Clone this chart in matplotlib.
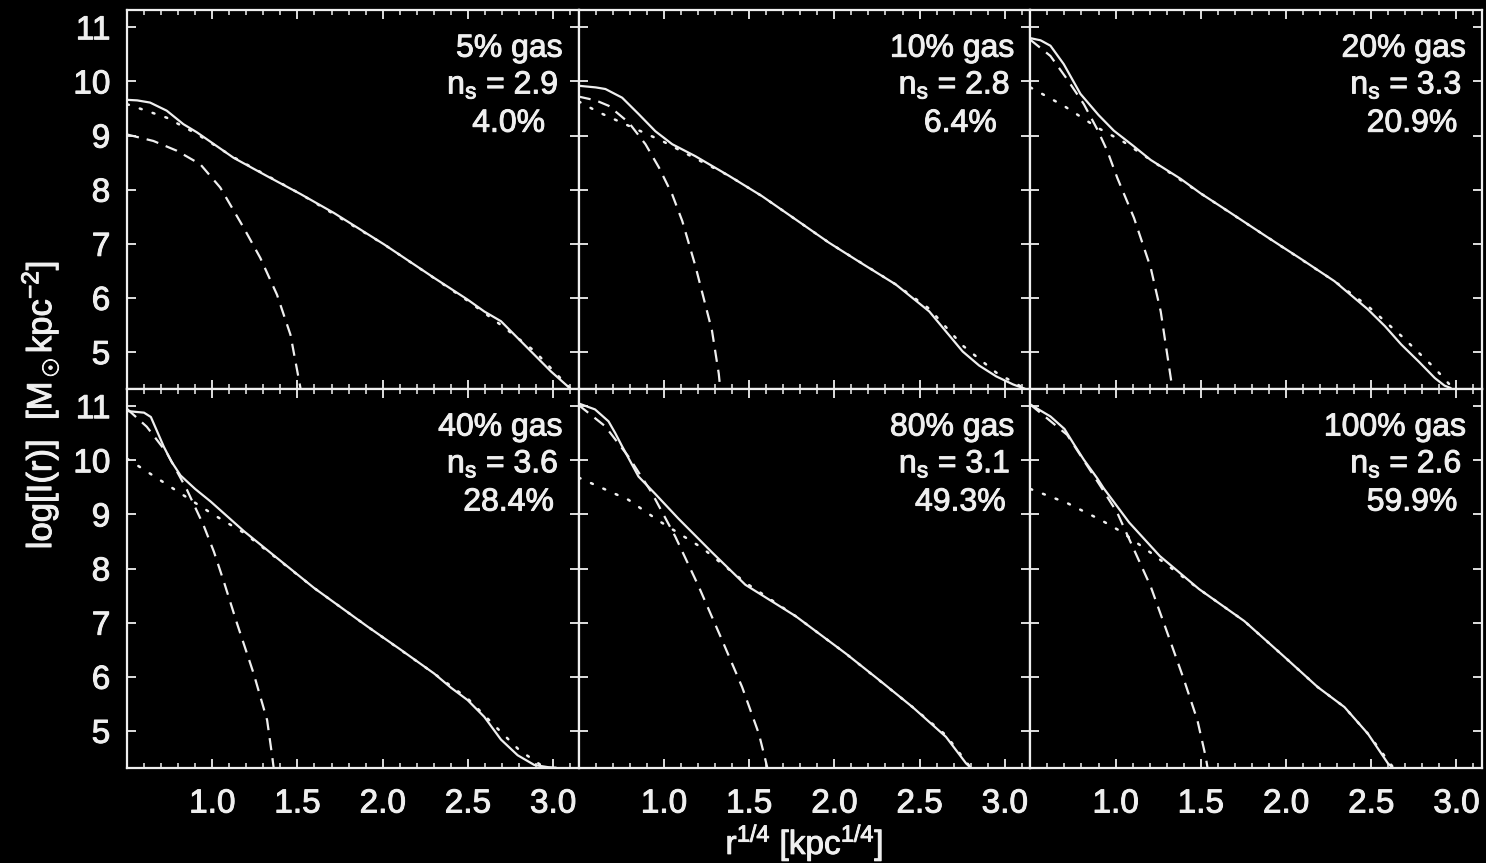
import matplotlib
matplotlib.use("Agg")
import matplotlib.pyplot as plt
import matplotlib.patheffects as pe
from matplotlib.ticker import FixedLocator, MultipleLocator, FormatStrFormatter

# ---------------------------------------------------------------------------
# Surface-density profiles log I(r) versus r^(1/4) for six gas fractions.
# total = simulated profile, outer = Sersic fit to the outer light,
# inner = extra-light (dissipational) component.
# ---------------------------------------------------------------------------
gas_labels = ["5% gas", "10% gas", "20% gas", "40% gas", "80% gas", "100% gas"]
sersic_n = [2.9, 2.8, 3.3, 3.6, 3.1, 2.6]
extra_light_pct = [4.0, 6.4, 20.9, 28.4, 49.3, 59.9]

# 5% gas
r_total_05 = [0.50, 0.56, 0.635, 0.733, 0.831, 0.91, 1.125, 1.322, 1.518, 1.714,
              2.008, 2.302, 2.498, 2.596, 2.694, 2.792, 2.89, 2.988, 3.106]
lg_total_05 = [9.66, 9.65, 9.61, 9.46, 9.21, 9.06, 8.59, 8.25, 7.92, 7.57,
               6.99, 6.37, 5.97, 5.75, 5.57, 5.26, 4.95, 4.64, 4.31]
r_outer_05 = [0.50, 0.733, 0.91, 1.125, 1.518, 2.008, 2.498, 2.694, 2.89, 3.106]
lg_outer_05 = [9.58, 9.33, 9.03, 8.60, 7.92, 6.99, 5.95, 5.50, 5.02, 4.31]
r_inner_05 = [0.50, 0.655, 0.792, 0.93, 1.047, 1.184, 1.282, 1.38, 1.459, 1.518]
lg_inner_05 = [9.02, 8.90, 8.72, 8.47, 8.04, 7.30, 6.74, 6.06, 5.32, 4.33]

# 10% gas
r_total_10 = [0.50, 0.60, 0.657, 0.755, 0.851, 0.95, 1.049, 1.184, 1.38, 1.576, 1.773,
              1.969, 2.165, 2.36, 2.557, 2.655, 2.753, 2.85, 2.95, 3.05, 3.12]
lg_total_10 = [9.92, 9.89, 9.86, 9.70, 9.40, 9.08, 8.84, 8.62, 8.26, 7.88, 7.45,
               7.02, 6.63, 6.25, 5.75, 5.38, 5.01, 4.75, 4.55, 4.40, 4.32]
r_outer_10 = [0.50, 0.618, 0.794, 0.99, 1.147, 1.38, 1.576, 1.969, 2.36, 2.557, 2.753, 2.95, 3.12]
lg_outer_10 = [9.63, 9.43, 9.18, 8.90, 8.64, 8.26, 7.88, 7.02, 6.25, 5.80, 5.12, 4.62, 4.32]
r_inner_10 = [0.50, 0.60, 0.676, 0.794, 0.892, 0.971, 1.049, 1.108, 1.184, 1.282, 1.322, 1.33]
lg_inner_10 = [9.72, 9.65, 9.55, 9.24, 8.84, 8.41, 7.91, 7.42, 6.60, 5.40, 4.60, 4.35]

# 20% gas
r_total_20 = [0.50, 0.56, 0.618, 0.696, 0.794, 0.90, 0.99, 1.10, 1.206, 1.382, 1.5,
              1.637, 1.892, 2.088, 2.284, 2.48, 2.58, 2.676, 2.78, 2.873, 2.93, 2.97]
lg_total_20 = [10.80, 10.76, 10.66, 10.32, 9.77, 9.38, 9.09, 8.82, 8.55, 8.20, 7.93,
               7.65, 7.12, 6.72, 6.31, 5.79, 5.48, 5.14, 4.82, 4.52, 4.38, 4.33]
r_outer_20 = [0.50, 0.696, 0.892, 1.049, 1.206, 1.5, 1.892, 2.284, 2.48, 2.676, 2.873, 2.98]
lg_outer_20 = [9.89, 9.55, 9.15, 8.88, 8.55, 7.93, 7.12, 6.31, 5.85, 5.30, 4.70, 4.33]
r_inner_20 = [0.50, 0.618, 0.716, 0.814, 0.892, 0.951, 1.01, 1.108, 1.206, 1.265, 1.324, 1.333]
lg_inner_20 = [10.77, 10.47, 10.04, 9.58, 9.12, 8.72, 8.22, 7.48, 6.56, 5.75, 4.52, 4.33]

# 40% gas
r_total_40 = [0.50, 0.60, 0.64, 0.676, 0.716, 0.76, 0.814, 0.90, 0.99, 1.186, 1.382, 1.598,
              1.91, 2.106, 2.302, 2.40, 2.498, 2.596, 2.694, 2.792, 2.89, 2.97, 3.02]
lg_total_40 = [10.91, 10.88, 10.80, 10.54, 10.25, 9.98, 9.72, 9.47, 9.24, 8.69, 8.19, 7.64,
               6.93, 6.50, 6.06, 5.80, 5.57, 5.26, 4.84, 4.55, 4.37, 4.33, 4.32]
r_outer_40 = [0.50, 0.75, 1.0, 1.186, 1.382, 1.598, 1.91, 2.302, 2.498, 2.694, 2.80, 2.95]
lg_outer_40 = [10.03, 9.52, 9.01, 8.66, 8.18, 7.64, 6.93, 6.06, 5.60, 4.98, 4.65, 4.32]
r_inner_40 = [0.50, 0.616, 0.733, 0.851, 0.949, 1.01, 1.069, 1.145, 1.243, 1.322, 1.351, 1.36]
lg_inner_40 = [10.95, 10.62, 10.14, 9.46, 8.80, 8.31, 7.75, 6.99, 6.06, 5.20, 4.55, 4.33]

# 80% gas
r_total_80 = [0.50, 0.596, 0.675, 0.715, 0.753, 0.851, 0.949, 1.086, 1.282, 1.478, 1.773,
              2.067, 2.263, 2.459, 2.655, 2.773, 2.80]
lg_total_80 = [11.05, 10.94, 10.72, 10.50, 10.27, 9.70, 9.38, 8.92, 8.30, 7.70, 7.12,
               6.43, 5.94, 5.44, 4.89, 4.40, 4.32]
r_outer_80 = [0.50, 0.792, 0.971, 1.225, 1.478, 1.773, 2.067, 2.459, 2.655, 2.80]
lg_outer_80 = [9.68, 9.27, 8.88, 8.38, 7.74, 7.12, 6.43, 5.44, 4.92, 4.32]
r_inner_80 = [0.50, 0.655, 0.792, 0.929, 1.067, 1.204, 1.341, 1.459, 1.557, 1.596, 1.606]
lg_inner_80 = [11.02, 10.63, 10.07, 9.40, 8.59, 7.67, 6.68, 5.81, 4.95, 4.46, 4.33]

# 100% gas
r_total_100 = [0.50, 0.618, 0.70, 0.755, 0.814, 0.892, 0.931, 1.08, 1.26, 1.49, 1.755,
               1.99, 2.186, 2.343, 2.48, 2.598, 2.625]
lg_total_100 = [11.03, 10.81, 10.58, 10.30, 10.01, 9.67, 9.48, 8.85, 8.23, 7.62, 7.03,
                6.37, 5.81, 5.44, 4.95, 4.40, 4.32]
r_outer_100 = [0.50, 0.716, 0.912, 1.029, 1.225, 1.49, 1.755, 1.99, 2.186, 2.343, 2.48, 2.63]
lg_outer_100 = [9.47, 9.21, 8.90, 8.69, 8.25, 7.62, 7.03, 6.37, 5.81, 5.44, 4.95, 4.32]
r_inner_100 = [0.50, 0.716, 0.912, 1.01, 1.108, 1.206, 1.304, 1.402, 1.48, 1.529, 1.539]
lg_inner_100 = [11.03, 10.47, 9.52, 9.03, 8.35, 7.67, 6.81, 5.94, 5.20, 4.52, 4.33]

x_ticks = [1.0, 1.5, 2.0, 2.5, 3.0]
y_ticks = [5, 6, 7, 8, 9, 10, 11]

totals = [(r_total_05, lg_total_05), (r_total_10, lg_total_10), (r_total_20, lg_total_20),
          (r_total_40, lg_total_40), (r_total_80, lg_total_80), (r_total_100, lg_total_100)]
outers = [(r_outer_05, lg_outer_05), (r_outer_10, lg_outer_10), (r_outer_20, lg_outer_20),
          (r_outer_40, lg_outer_40), (r_outer_80, lg_outer_80), (r_outer_100, lg_outer_100)]
inners = [(r_inner_05, lg_inner_05), (r_inner_10, lg_inner_10), (r_inner_20, lg_inner_20),
          (r_inner_40, lg_inner_40), (r_inner_80, lg_inner_80), (r_inner_100, lg_inner_100)]

plt.rcParams.update({
    "font.family": ["Liberation Sans", "DejaVu Sans"],
    "mathtext.fontset": "custom",
    "mathtext.rm": "Liberation Sans",
    "mathtext.it": "Liberation Sans:italic",
    "mathtext.bf": "Liberation Sans:bold",
    "mathtext.sf": "Liberation Sans",
})

FG = "#efefef"
W, H = 1486, 863
# slightly heavier glyph strokes for all text
THICK = [pe.withStroke(linewidth=0.7, foreground=FG)]

fig, axes = plt.subplots(2, 3, figsize=(W / 100, H / 100), dpi=100, sharex=True, sharey=True)
fig.patch.set_facecolor("black")
fig.subplots_adjust(left=127 / W, right=1482 / W, bottom=1 - 767.7 / H, top=1 - 10 / H,
                    wspace=0, hspace=0)

for i, ax in enumerate(axes.flat):
    ax.set_facecolor("black")
    ro, lo = outers[i]
    ri, li = inners[i]
    rt, lt = totals[i]
    ax.plot(ro, lo, color=FG, lw=1.8, dashes=(0.8, 4.6), dash_capstyle="round")
    ax.plot(ri, li, color=FG, lw=1.6, dashes=(5.5, 3.6))
    ax.plot(rt, lt, color=FG, lw=1.6, solid_capstyle="butt", solid_joinstyle="round")

    ax.set_xlim(0.5, 3.15)
    ax.set_ylim(4.32, 11.32)
    ax.xaxis.set_major_locator(FixedLocator(x_ticks))
    ax.xaxis.set_minor_locator(MultipleLocator(0.1))
    ax.xaxis.set_major_formatter(FormatStrFormatter("%.1f"))
    ax.yaxis.set_major_locator(FixedLocator(y_ticks))

    for s in ax.spines.values():
        s.set_color(FG)
        s.set_linewidth(1.6)
    ax.tick_params(which="both", direction="in", top=True, right=True,
                   colors=FG, labelcolor=FG, labelsize=24)
    ax.tick_params(which="major", length=6.5, width=1.3)
    ax.tick_params(which="minor", length=3.3, width=1.1)
    ax.tick_params(axis="x", pad=15)
    ax.tick_params(axis="y", pad=12)
    for lab in ax.get_xticklabels() + ax.get_yticklabels():
        lab.set_path_effects(THICK)

    ax.annotate(gas_labels[i], xy=(1, 1), xycoords="axes fraction",
                xytext=(-16, -46.7), textcoords="offset pixels",
                ha="right", va="baseline", fontsize=23, color=FG, path_effects=THICK)
    ax.annotate("n$_{\\mathrm{s}}$ = %.1f" % sersic_n[i], xy=(1, 1), xycoords="axes fraction",
                xytext=(-20, -83.5), textcoords="offset pixels",
                ha="right", va="baseline", fontsize=23, color=FG, path_effects=THICK)
    ax.annotate("%.1f%%" % extra_light_pct[i], xy=(1, 1), xycoords="axes fraction",
                xytext=(-70, -121.7), textcoords="offset pixels",
                ha="center", va="baseline", fontsize=23, color=FG, path_effects=THICK)

fig.text(40 / W, 1 - 405 / H, r"log[I(r)]  [M$_\odot$kpc$^{-2}$]", rotation=90,
         ha="center", va="center", fontsize=25, color=FG, path_effects=THICK)
fig.text(804.5 / W, 1 - 854 / H, r"r$^{1/4}$ [kpc$^{1/4}$]",
         ha="center", va="baseline", fontsize=24, color=FG, path_effects=THICK)

fig.savefig("out.png", dpi=100, facecolor=fig.get_facecolor())
